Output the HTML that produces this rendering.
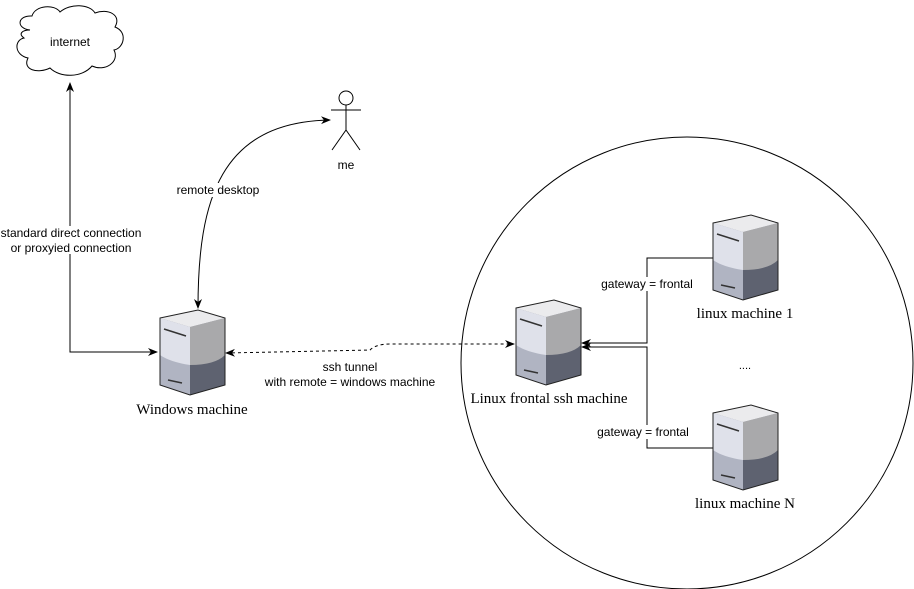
<!DOCTYPE html>
<html><head><style>body{margin:0;background:#fff}svg{display:block}</style></head><body>
<svg width="914" height="589" viewBox="0 0 914 589" xmlns="http://www.w3.org/2000/svg" font-family="Liberation Sans, sans-serif">
<defs>
<g id="srv">
<polygon points="0,8 38,0 65,8 65,75 30,85 0,75" fill="#5e6270"/>
<polygon points="0,8 30,17 30,85 0,75" fill="#b0b4c2"/>
<path d="M0,8 L30,17 L30,55 Q10,52 0,45 Z" fill="#dfe1ea"/>
<path d="M30,17 L65,8 L65,45 Q55,55 30,55 Z" fill="#a9a9ab"/>
<polygon points="0,8 38,0 65,8 30,17" fill="#ebebed"/>
<polygon points="0,8 38,0 65,8 65,75 30,85 0,75" fill="none" stroke="#222" stroke-width="1"/>
<line x1="4" y1="19" x2="26" y2="26" stroke="#333" stroke-width="1.5"/>
<line x1="8" y1="70" x2="22" y2="73" stroke="#333" stroke-width="1.5"/>
</g>
<marker id="ar" markerWidth="10" markerHeight="10" refX="9" refY="5" orient="auto-start-reverse" markerUnits="userSpaceOnUse"><path d="M0,1 L10,5 L0,9 L3,5 Z" fill="#000"/></marker>
</defs>
<circle cx="687" cy="363" r="226" fill="none" stroke="#000"/>
<path d="M30,30 C15,28 18,15 32,16 C35,5 55,4 60,12 C70,3 90,4 95,13 C108,8 122,15 115,27 C128,32 124,48 114,50 C120,62 105,72 92,66 C82,78 60,78 50,68 C38,74 22,70 28,58 C14,55 14,40 24,38 C18,34 22,30 30,30 Z" fill="#fff" stroke="#000"/>
<text x="70" y="46" font-size="12" text-anchor="middle">internet</text>
<path d="M157,352 L70,352 L70,83" fill="none" stroke="#000" marker-start="url(#ar)" marker-end="url(#ar)"/>
<rect x="0" y="226" width="144" height="28" fill="#fff"/>
<text x="71" y="237" font-size="12" text-anchor="middle">standard direct connection</text>
<text x="71" y="252" font-size="12" text-anchor="middle">or proxyied connection</text>
<path d="M198,308 C198,200 220,122 330,120" fill="none" stroke="#000" marker-start="url(#ar)" marker-end="url(#ar)"/>
<rect x="170" y="183" width="96" height="14" fill="#fff"/>
<text x="218" y="194" font-size="12" text-anchor="middle">remote desktop</text>
<g stroke="#000" fill="none"><circle cx="346" cy="98" r="7" fill="#fff"/><line x1="346" y1="105" x2="346" y2="130"/><line x1="331" y1="110" x2="361" y2="110"/><path d="M332,150 L346,130 L360,150"/></g>
<text x="346" y="169" font-size="12" text-anchor="middle">me</text>
<path d="M226,353 L370,350 Q376,344 390,344 L514,344" fill="none" stroke="#000" stroke-dasharray="3,3" marker-start="url(#ar)" marker-end="url(#ar)"/>
<text x="350" y="371" font-size="12" text-anchor="middle">ssh tunnel</text>
<text x="350" y="386" font-size="12" text-anchor="middle">with remote = windows machine</text>
<path d="M713,258 L647,258 L647,343 L582,343" fill="none" stroke="#000" marker-end="url(#ar)"/>
<path d="M713,448 L647,448 L647,347 L582,347" fill="none" stroke="#000" marker-end="url(#ar)"/>
<rect x="598" y="277" width="98" height="14" fill="#fff"/>
<text x="647" y="288" font-size="12" text-anchor="middle">gateway = frontal</text>
<rect x="594" y="425" width="98" height="14" fill="#fff"/>
<text x="643" y="436" font-size="12" text-anchor="middle">gateway = frontal</text>
<use href="#srv" x="160" y="310"/>
<use href="#srv" x="516" y="300"/>
<use href="#srv" x="713" y="215"/>
<use href="#srv" x="713" y="405"/>
<g font-family="Liberation Serif, serif" font-size="15" text-anchor="middle">
<text x="192" y="414">Windows machine</text>
<text x="549" y="403">Linux frontal ssh machine</text>
<text x="745" y="318">linux machine 1</text>
<text x="745" y="508">linux machine N</text>
</g>
<text x="745" y="369" font-size="11" text-anchor="middle">....</text>
</svg>
</body></html>
